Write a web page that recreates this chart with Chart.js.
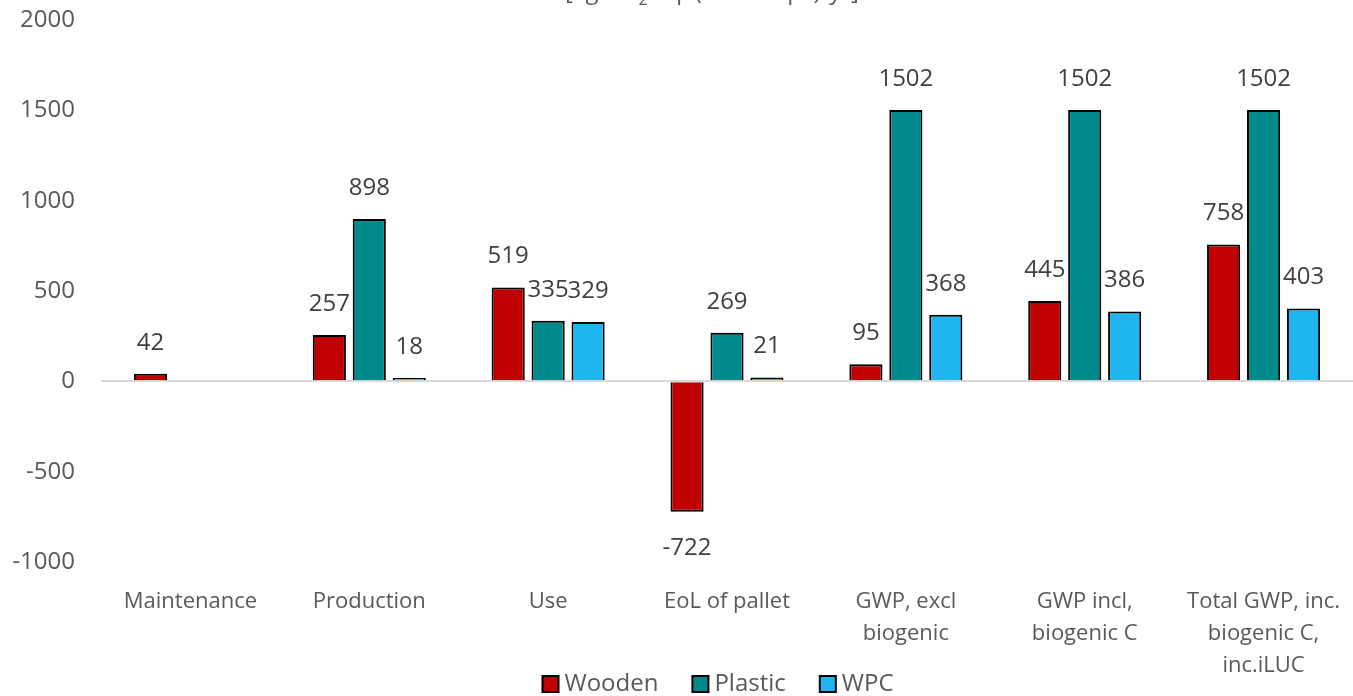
<!DOCTYPE html>
<html>
<head>
<meta charset="utf-8">
<script src="https://cdn.jsdelivr.net/npm/chart.js@4.4.1/dist/chart.umd.min.js"></script>
<style>
  html, body { margin: 0; padding: 0; background: #fff; }
  #wrap { width: 1353px; height: 696px; position: relative; }
</style>
</head>
<body>
<div id="wrap"><canvas id="gwpChart"></canvas></div>
<script>
// categories along the x axis
var categories = [
    "Maintenance",
    "Production",
    "Use",
    "EoL of pallet",
    ["GWP, excl", "biogenic"],
    ["GWP incl,", "biogenic C"],
    ["Total GWP, inc.", "biogenic C,", "inc.iLUC"]
];
var woodenValues  = [42, 257, 519, -722, 95, 445, 758];
var plasticValues = [null, 898, 335, 269, 1502, 1502, 1502];
var wpcValues     = [null, 18, 329, 21, 368, 386, 403];
var yTicks = [-1000, -500, 0, 500, 1000, 1500, 2000];

var FONT = "'Open Sans', sans-serif";

// value labels above / below each bar
var barLabels = {
    id: 'barLabels',
    afterDatasetsDraw: function(chart) {
        var ctx = chart.ctx;
        ctx.save();
        ctx.font = "24px " + FONT;
        ctx.fillStyle = "#404040";
        ctx.textAlign = "center";
        ctx.textBaseline = "middle";
        chart.data.datasets.forEach(function(ds, i) {
            var meta = chart.getDatasetMeta(i);
            meta.data.forEach(function(bar, j) {
                var v = ds.data[j];
                if (v === null || v === undefined) return;
                var y = v >= 0 ? bar.y - 31 : bar.y + 36;
                ctx.fillText(String(v), bar.x, y);
            });
        });
        ctx.restore();
    }
};

// legend drawn by hand so it can sit beside the third label line
var bottomLegend = {
    id: 'bottomLegend',
    afterDraw: function(chart) {
        var ctx = chart.ctx;
        var ds = chart.data.datasets;
        ctx.save();
        ctx.font = "24px " + FONT;
        ctx.textBaseline = "middle";
        ctx.textAlign = "left";
        var box = 16, gapText = 6, gapItem = 34;
        var total = 0;
        ds.forEach(function(d, i) {
            total += box + gapText + ctx.measureText(d.label).width;
            if (i < ds.length - 1) total += gapItem;
        });
        var x = 718 - total / 2, cy = 684;
        ds.forEach(function(d) {
            ctx.fillStyle = d.backgroundColor;
            ctx.fillRect(x, cy - box / 2, box, box);
            ctx.strokeStyle = "#000";
            ctx.lineWidth = 2;
            ctx.strokeRect(x, cy - box / 2, box, box);
            ctx.fillStyle = "#595959";
            ctx.fillText(d.label, x + box + gapText, cy);
            x += box + gapText + ctx.measureText(d.label).width + gapItem;
        });
        ctx.restore();
    }
};

// title sits mostly above the top edge of the picture
var cutTitle = {
    id: 'cutTitle',
    afterDraw: function(chart) {
        var ctx = chart.ctx;
        ctx.save();
        ctx.fillStyle = "#595959";
        ctx.textBaseline = "alphabetic";
        var a = "[kg CO", b = "2", c = " eq. (1000 trips)/yr]";
        ctx.font = "24px " + FONT;
        var wa = ctx.measureText(a).width, wc = ctx.measureText(c).width;
        ctx.font = "16px " + FONT;
        var wb = ctx.measureText(b).width;
        var x = 712 - (wa + wb + wc) / 2, base = -1;
        ctx.font = "24px " + FONT;
        ctx.fillText(a, x, base);
        ctx.font = "16px " + FONT;
        ctx.fillText(b, x + wa, base + 6);
        ctx.font = "24px " + FONT;
        ctx.fillText(c, x + wa + wb, base);
        ctx.restore();
    }
};

var gwpConfig = {
    type: 'bar',
    data: {
        labels: categories,
        datasets: [
            { label: "Wooden",  data: woodenValues,  backgroundColor: "#C00000", borderColor: "#000", borderWidth: 2 },
            { label: "Plastic", data: plasticValues, backgroundColor: "#008A8C", borderColor: "#000", borderWidth: 2 },
            { label: "WPC",     data: wpcValues,     backgroundColor: "#1FB5F0", borderColor: "#000", borderWidth: 2 }
        ]
    },
    options: {
        responsive: true,
        maintainAspectRatio: false,
        animation: false,
        layout: { padding: { top: 20, right: 0, left: 0, bottom: 0 } },
        categoryPercentage: 0.67,
        barPercentage: 0.83,
        plugins: {
            legend: { display: false },
            tooltip: { enabled: false }
        },
        scales: {
            x: {
                grid: { display: false },
                border: { display: false },
                ticks: {
                    font: { family: FONT, size: 22, lineHeight: 1.45 },
                    color: "#595959",
                    maxRotation: 0,
                    autoSkip: false,
                    padding: 16
                },
                afterFit: function(axis) {
                    axis.height = 696 - 562;
                    axis.paddingLeft = 0;
                    axis.paddingRight = 0;
                }
            },
            y: {
                min: -1000,
                max: 2000,
                afterBuildTicks: function(axis) {
                    axis.ticks = yTicks.map(function(v) { return { value: v }; });
                },
                afterFit: function(axis) {
                    axis.width = 101;
                    axis.paddingTop = 0;
                    axis.paddingBottom = 0;
                },
                grid: {
                    drawTicks: false,
                    color: function(c) { return c.tick && c.tick.value === 0 ? "#d9d9d9" : "rgba(0,0,0,0)"; },
                    lineWidth: 2
                },
                border: { display: false },
                ticks: {
                    font: { family: FONT, size: 24 },
                    color: "#595959",
                    padding: 26,
                    callback: function(v) { return String(v); }
                }
            }
        }
    },
    plugins: [barLabels, bottomLegend, cutTitle]
};

var gwpCtx = document.getElementById("gwpChart");
var gwpChart = new Chart(gwpCtx, gwpConfig);
</script>
</body>
</html>
